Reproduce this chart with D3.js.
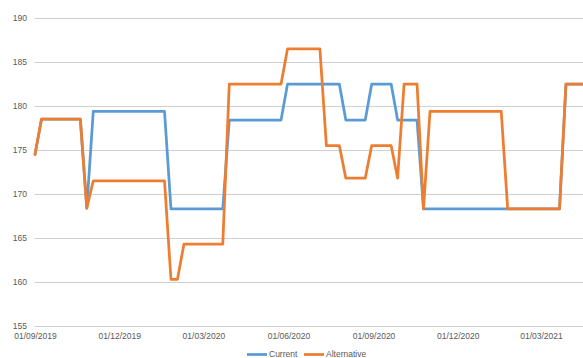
<!DOCTYPE html>
<html>
<head>
<meta charset="utf-8">
<script src="https://cdn.jsdelivr.net/npm/d3@7"></script>
<style>
  html, body { margin: 0; padding: 0; background: #fff; }
  svg { display: block; overflow: hidden; }
  .tick text { font-family: "Liberation Sans", Arial, sans-serif; font-size: 8.5px; fill: #595959; }
  .legend text { font-family: "Liberation Sans", Arial, sans-serif; font-size: 8.5px; fill: #595959; }
</style>
</head>
<body>
<svg id="chart" width="583" height="358"></svg>
<script>
// Weekly series, listed at the weeks where the value changes
const currentDates = ["2019-09-01","2019-09-08","2019-10-20","2019-10-27","2019-11-03","2020-01-19","2020-01-26",
  "2020-03-22","2020-03-29","2020-05-24","2020-05-31","2020-07-26","2020-08-02","2020-08-23","2020-08-30",
  "2020-09-20","2020-09-27","2020-10-18","2020-10-25","2021-03-21","2021-03-28","2021-04-25"];
const currentValues = [174.5,178.5,178.5,168.4,179.4,179.4,168.3,
  168.3,178.4,178.4,182.5,182.5,178.4,178.4,182.5,
  182.5,178.4,178.4,168.3,168.3,182.5,182.5];

const alternativeDates = ["2019-09-01","2019-09-08","2019-10-20","2019-10-27","2019-11-03","2020-01-19","2020-01-26",
  "2020-02-02","2020-02-09","2020-03-22","2020-03-29","2020-05-24","2020-05-31","2020-07-05","2020-07-12",
  "2020-07-26","2020-08-02","2020-08-23","2020-08-30","2020-09-20","2020-09-27","2020-10-04","2020-10-18",
  "2020-10-25","2020-11-01","2021-01-17","2021-01-24","2021-03-21","2021-03-28","2021-04-25"];
const alternativeValues = [174.5,178.5,178.5,168.4,171.5,171.5,160.3,
  160.3,164.3,164.3,182.5,182.5,186.5,186.5,175.5,
  175.5,171.8,171.8,175.5,175.5,171.8,182.5,182.5,
  168.3,179.4,179.4,168.3,168.3,182.5,182.5];

const xTickDates = ["2019-09-01","2019-12-01","2020-03-01","2020-06-01","2020-09-01","2020-12-01","2021-03-01"];
const yTicks = [155,160,165,170,175,180,185,190];

const seriesNames = ["Current","Alternative"];
const seriesColors = ["#5B9BD5","#ED7D31"];

const parse = d3.utcParse("%Y-%m-%d");
const fmt = d3.utcFormat("%d/%m/%Y");

const svg = d3.select("#chart");
const W = 583;

const x = d3.scaleUtc()
  .domain([parse("2019-09-01"), parse("2021-03-01")])
  .range([35, 541]);
const y = d3.scaleLinear().domain([155, 190]).range([326, 18]);

// horizontal gridlines
svg.append("g")
  .selectAll("line")
  .data(yTicks)
  .join("line")
  .attr("x1", 34.5).attr("x2", W + 10)
  .attr("y1", d => Math.round(y(d)) + 0.5)
  .attr("y2", d => Math.round(y(d)) + 0.5)
  .attr("stroke", "#D0D0D0")
  .attr("stroke-width", 1);

// y axis labels
const yAxis = svg.append("g")
  .attr("transform", "translate(34,0)")
  .call(d3.axisLeft(y).tickValues(yTicks).tickSize(0).tickPadding(7));
yAxis.select(".domain").remove();

// x axis labels
const xAxis = svg.append("g")
  .attr("transform", "translate(0,326)")
  .call(d3.axisBottom(x).tickValues(xTickDates.map(parse)).tickFormat(fmt).tickSize(0).tickPadding(7));
xAxis.select(".domain").remove();

const line = d3.line()
  .x(d => x(d.date))
  .y(d => y(d.value));

const series = [
  currentDates.map((d, i) => ({ date: parse(d), value: currentValues[i] })),
  alternativeDates.map((d, i) => ({ date: parse(d), value: alternativeValues[i] }))
];

svg.append("g")
  .selectAll("path")
  .data(series)
  .join("path")
  .attr("d", line)
  .attr("fill", "none")
  .attr("stroke", (d, i) => seriesColors[i])
  .attr("stroke-width", 2.75)
  .attr("stroke-linejoin", "round")
  .attr("stroke-linecap", "round");

// legend along the bottom edge
const legend = svg.append("g").attr("class", "legend");
const legendX = [247, 304];
seriesNames.forEach((name, i) => {
  legend.append("line")
    .attr("x1", legendX[i]).attr("x2", legendX[i] + 20)
    .attr("y1", 354.5).attr("y2", 354.5)
    .attr("stroke", seriesColors[i])
    .attr("stroke-width", 2.75);
  legend.append("text")
    .attr("x", legendX[i] + 22)
    .attr("y", 356.5)
    .text(name);
});
</script>
</body>
</html>
